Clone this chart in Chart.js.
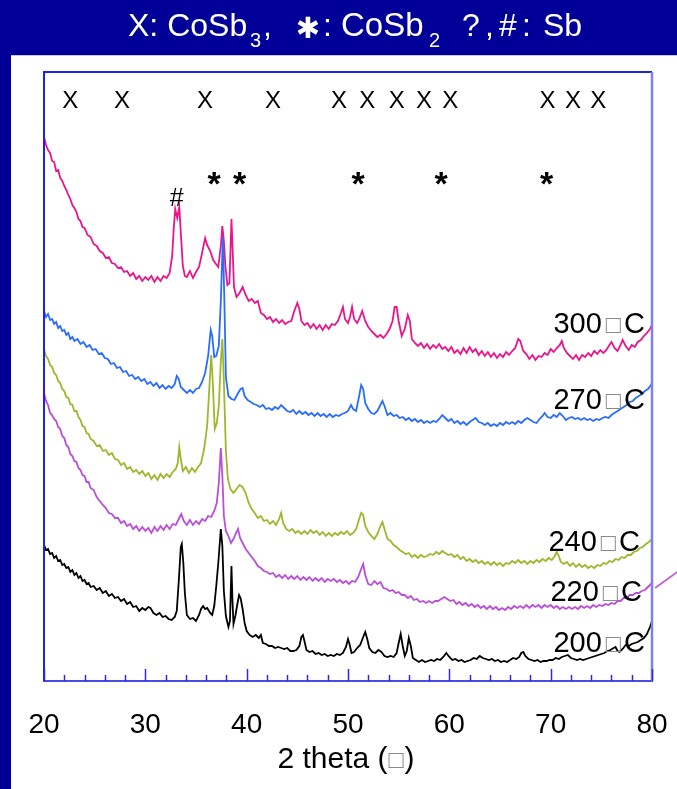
<!DOCTYPE html>
<html lang="en">
<head>
<meta charset="UTF-8">
<title>XRD CoSb</title>
<script src="https://cdn.jsdelivr.net/npm/chart.js@4"></script>
<style>
  html, body { margin: 0; padding: 0; background: #000099; }
  canvas { display: block; }
</style>
</head>
<body>
<canvas id="xrd" width="677" height="789"></canvas>
<script>
// [2theta, intensity] (intensity in arbitrary units, samples stacked)
const xrd300 = [
[20.0,544],[20.2,536],[20.4,531],[20.6,528],[20.8,520],[21.0,519],[21.2,510],[21.4,511],[21.6,503],[21.8,500],
[22.0,495],[22.2,491],[22.4,486],[22.6,482],[22.8,476],[23.0,473],[23.2,469],[23.4,462],[23.6,460],[23.8,454],
[24.0,453],[24.3,446],[24.6,444],[24.9,437],[25.2,435],[25.5,430],[25.8,428],[26.1,423],[26.4,424],[26.7,418],
[27.0,417],[27.3,413],[27.6,414],[27.9,409],[28.2,410],[28.5,405],[28.8,408],[29.1,402],[29.4,405],[29.7,400],
[30.0,404],[30.3,401],[30.6,405],[30.9,399],[31.2,404],[31.5,400],[31.8,405],[32.1,403],[32.4,408],[32.65,425],
[32.8,452],[32.95,472],[33.15,463],[33.35,474],[33.55,440],[33.7,415],[33.9,405],[34.1,404],[34.4,410],[34.7,403],
[35.0,409],[35.3,414],[35.6,428],[35.9,443],[36.1,436],[36.4,430],[36.7,421],[36.9,418],[37.2,414],[37.45,435],
[37.6,455],[37.75,440],[37.9,415],[38.1,396],[38.3,398],[38.5,462],[38.62,430],[38.75,394],[39.0,384],[39.3,388],
[39.6,394],[39.9,386],[40.2,380],[40.5,382],[40.8,378],[41.1,380],[41.4,368],[41.7,366],[42.0,362],[42.3,364],
[42.6,359],[42.9,362],[43.2,358],[43.5,361],[43.8,357],[44.1,359],[44.4,360],[44.7,370],[45.0,378],[45.2,372],
[45.4,360],[45.7,356],[46.0,358],[46.3,353],[46.6,357],[46.9,352],[47.2,356],[47.5,351],[47.8,356],[48.1,352],
[48.4,357],[48.7,356],[49.0,360],[49.3,368],[49.5,374],[49.7,362],[50.0,358],[50.2,364],[50.4,374],[50.6,362],
[50.9,358],[51.1,362],[51.4,370],[51.7,360],[52.0,354],[52.3,350],[52.6,347],[52.9,344],[53.2,346],[53.5,343],
[53.8,347],[54.1,352],[54.4,360],[54.6,374],[54.8,374],[55.0,360],[55.3,345],[55.6,352],[55.9,366],[56.1,360],
[56.3,342],[56.6,338],[56.9,335],[57.2,338],[57.5,333],[57.8,337],[58.1,332],[58.4,336],[58.7,333],[59.0,337],
[59.3,332],[59.6,334],[59.9,330],[60.2,334],[60.5,328],[60.8,331],[61.1,327],[61.4,333],[61.7,328],[62.0,334],
[62.3,329],[62.6,332],[62.9,326],[63.2,330],[63.5,325],[63.8,329],[64.1,324],[64.4,328],[64.7,323],[65.0,327],
[65.3,324],[65.6,329],[65.9,326],[66.2,330],[66.5,333],[66.8,342],[67.0,340],[67.3,330],[67.6,327],[67.9,322],
[68.2,326],[68.5,321],[68.8,325],[69.1,324],[69.4,328],[69.7,326],[70.0,332],[70.3,329],[70.6,333],[70.9,336],
[71.1,340],[71.3,333],[71.6,328],[71.9,325],[72.2,322],[72.5,326],[72.8,321],[73.1,326],[73.4,324],[73.7,328],
[74.0,325],[74.3,330],[74.6,327],[74.9,331],[75.2,328],[75.5,331],[75.8,336],[76.0,339],[76.3,333],[76.6,330],
[76.9,336],[77.1,341],[77.4,335],[77.7,331],[78.0,336],[78.3,334],[78.6,339],[78.9,341],[79.2,345],[79.5,348],
[79.8,352],[80.0,356]
];

const xrd270 = [
[20.0,370],[20.2,364],[20.4,367],[20.6,361],[20.8,362],[21.0,357],[21.2,359],[21.4,353],[21.6,355],[21.8,350],
[22.0,351],[22.2,346],[22.4,348],[22.6,342],[22.8,344],[23.0,340],[23.3,342],[23.6,337],[23.9,339],[24.2,334],
[24.5,336],[24.8,331],[25.1,332],[25.4,327],[25.7,328],[26.0,323],[26.3,322],[26.6,317],[26.9,318],[27.2,313],
[27.5,314],[27.8,309],[28.1,310],[28.4,305],[28.7,306],[29.0,302],[29.3,304],[29.6,300],[29.9,302],[30.2,297],
[30.5,299],[30.8,295],[31.1,298],[31.4,293],[31.7,296],[32.0,292],[32.3,295],[32.6,293],[32.9,297],[33.1,305],
[33.3,302],[33.5,294],[33.8,291],[34.1,288],[34.4,291],[34.7,288],[35.0,292],[35.3,293],[35.6,299],[35.9,308],
[36.2,325],[36.45,351],[36.6,345],[36.8,324],[37.0,325],[37.25,335],[37.45,380],[37.65,444],[37.8,380],[37.95,304],
[38.2,285],[38.5,282],[38.8,281],[39.1,287],[39.4,292],[39.6,293],[39.8,285],[40.1,281],[40.4,279],[40.7,277],
[41.0,276],[41.3,274],[41.6,276],[41.9,272],[42.2,273],[42.5,271],[42.8,274],[43.1,272],[43.4,276],[43.7,273],
[44.0,270],[44.3,269],[44.6,271],[44.9,267],[45.2,270],[45.5,267],[45.8,269],[46.1,266],[46.4,268],[46.7,265],
[47.0,268],[47.3,265],[47.6,267],[47.9,264],[48.2,267],[48.5,264],[48.8,266],[49.1,265],[49.4,267],[49.7,268],
[50.0,270],[50.3,276],[50.5,272],[50.8,270],[51.1,285],[51.3,296],[51.5,292],[51.7,278],[52.0,272],[52.3,268],
[52.6,267],[52.9,270],[53.2,276],[53.4,280],[53.6,275],[53.9,266],[54.2,268],[54.5,265],[54.8,266],[55.1,263],
[55.4,264],[55.7,261],[56.0,263],[56.3,260],[56.6,262],[56.9,259],[57.2,261],[57.5,258],[57.8,260],[58.1,258],
[58.4,260],[58.7,259],[59.0,262],[59.3,266],[59.6,263],[59.9,260],[60.2,262],[60.5,258],[60.8,260],[61.1,257],
[61.4,259],[61.7,256],[62.0,259],[62.3,261],[62.6,263],[62.9,259],[63.2,258],[63.5,256],[63.8,258],[64.1,255],
[64.4,257],[64.7,255],[65.0,258],[65.3,256],[65.6,259],[65.9,257],[66.2,259],[66.5,257],[66.8,260],[67.1,258],
[67.4,261],[67.7,263],[68.0,261],[68.3,259],[68.6,258],[68.9,262],[69.2,265],[69.4,268],[69.7,264],[70.0,263],
[70.3,266],[70.6,264],[70.9,268],[71.2,265],[71.5,261],[71.8,263],[72.1,264],[72.4,262],[72.7,263],[73.0,261],
[73.3,263],[73.6,261],[73.9,262],[74.2,260],[74.5,262],[74.8,261],[75.1,263],[75.4,264],[75.7,263],[76.0,266],
[76.3,268],[76.6,270],[76.9,272],[77.2,274],[77.5,276],[77.8,279],[78.1,280],[78.4,283],[78.7,285],[79.0,287],
[79.3,290],[79.6,292],[79.9,296],[80.0,298]
];

const xrd240 = [
[20.0,332],[20.2,325],[20.4,322],[20.6,316],[20.8,314],[21.0,308],[21.2,306],[21.4,300],[21.6,298],[21.8,292],
[22.0,290],[22.2,284],[22.4,283],[22.6,277],[22.8,276],[23.0,270],[23.2,270],[23.4,264],[23.6,261],[23.8,255],
[24.0,254],[24.2,248],[24.4,247],[24.6,242],[24.9,240],[25.2,235],[25.5,236],[25.8,230],[26.1,231],[26.4,226],
[26.7,228],[27.0,222],[27.3,221],[27.6,216],[27.9,218],[28.2,212],[28.5,214],[28.8,209],[29.1,211],[29.4,207],
[29.7,210],[30.0,205],[30.3,208],[30.6,202],[30.9,206],[31.2,201],[31.5,207],[31.8,203],[32.1,207],[32.4,204],
[32.7,209],[33.0,212],[33.2,218],[33.35,234],[33.5,222],[33.7,210],[34.0,214],[34.3,208],[34.6,213],[34.9,209],
[35.2,214],[35.5,218],[35.8,232],[36.1,255],[36.3,290],[36.5,326],[36.65,300],[36.85,252],[37.05,258],[37.25,275],
[37.45,320],[37.6,342],[37.75,300],[37.95,230],[38.15,202],[38.4,192],[38.7,188],[39.0,192],[39.3,196],[39.6,194],
[39.9,188],[40.2,178],[40.5,172],[40.8,168],[41.1,163],[41.4,165],[41.7,160],[42.0,161],[42.3,157],[42.6,160],
[42.9,156],[43.2,162],[43.4,168],[43.6,158],[43.9,152],[44.2,150],[44.5,152],[44.8,148],[45.1,150],[45.4,147],
[45.7,150],[46.0,147],[46.3,151],[46.6,148],[46.9,150],[47.2,146],[47.5,149],[47.8,145],[48.1,148],[48.4,145],
[48.7,148],[49.0,146],[49.3,149],[49.6,147],[49.9,150],[50.2,146],[50.5,148],[50.8,152],[51.1,162],[51.3,168],
[51.5,166],[51.7,155],[52.0,149],[52.3,145],[52.6,142],[52.9,147],[53.2,155],[53.4,159],[53.6,152],[53.9,142],
[54.2,140],[54.5,136],[54.8,134],[55.1,131],[55.4,129],[55.7,127],[56.0,128],[56.3,124],[56.6,126],[56.9,123],
[57.2,126],[57.5,124],[57.8,125],[58.1,127],[58.4,126],[58.7,129],[59.0,127],[59.3,130],[59.6,128],[59.9,126],
[60.2,127],[60.5,124],[60.8,126],[61.1,122],[61.4,124],[61.7,120],[62.0,122],[62.3,119],[62.6,121],[62.9,118],
[63.2,120],[63.5,117],[63.8,119],[64.1,116],[64.4,119],[64.7,116],[65.0,118],[65.3,115],[65.6,118],[65.9,117],
[66.2,120],[66.5,118],[66.8,121],[67.1,118],[67.4,120],[67.7,117],[68.0,120],[68.3,118],[68.6,121],[68.9,119],
[69.2,122],[69.5,120],[69.8,123],[70.1,121],[70.4,125],[70.6,129],[70.8,125],[71.0,119],[71.3,117],[71.6,119],
[71.9,115],[72.2,118],[72.5,114],[72.8,117],[73.1,114],[73.4,116],[73.7,113],[74.0,115],[74.3,113],[74.6,116],
[74.9,115],[75.2,118],[75.5,117],[75.8,120],[76.1,119],[76.4,122],[76.7,121],[77.0,124],[77.3,123],[77.6,126],
[77.9,126],[78.2,129],[78.5,130],[78.8,133],[79.1,134],[79.4,137],[79.7,139],[80.0,142]
];

const xrd220 = [
[20.0,288],[20.2,280],[20.4,276],[20.6,268],[20.8,266],[21.0,262],[21.2,260],[21.4,254],[21.6,252],[21.8,245],
[22.0,243],[22.2,236],[22.4,234],[22.6,227],[22.8,225],[23.0,220],[23.2,219],[23.4,213],[23.6,211],[23.8,206],
[24.0,205],[24.2,199],[24.4,199],[24.6,193],[24.9,191],[25.2,184],[25.5,180],[25.8,176],[26.1,173],[26.4,168],
[26.7,167],[27.0,163],[27.3,163],[27.6,158],[27.9,160],[28.2,155],[28.5,157],[28.8,152],[29.1,155],[29.4,150],
[29.7,154],[30.0,150],[30.3,153],[30.6,148],[30.9,154],[31.2,150],[31.5,155],[31.8,151],[32.1,156],[32.4,152],
[32.7,157],[33.0,156],[33.3,162],[33.55,167],[33.8,160],[34.1,156],[34.4,161],[34.7,156],[35.0,160],[35.3,157],
[35.6,162],[35.9,160],[36.2,165],[36.5,164],[36.8,170],[37.05,178],[37.25,198],[37.45,233],[37.6,205],[37.75,165],
[37.95,150],[38.2,145],[38.45,138],[38.7,142],[38.95,148],[39.15,152],[39.35,143],[39.6,138],[39.9,132],[40.2,128],
[40.5,124],[40.8,120],[41.1,115],[41.4,113],[41.7,110],[42.0,109],[42.3,107],[42.6,108],[42.9,104],[43.2,106],
[43.5,103],[43.8,106],[44.1,102],[44.4,105],[44.7,102],[45.0,105],[45.3,101],[45.6,104],[45.9,101],[46.2,104],
[46.5,100],[46.8,103],[47.1,100],[47.4,103],[47.7,99],[48.0,102],[48.3,100],[48.6,102],[48.9,99],[49.2,101],
[49.5,98],[49.8,100],[50.1,97],[50.4,100],[50.7,99],[51.0,104],[51.3,112],[51.5,117],[51.7,106],[52.0,97],
[52.3,96],[52.6,100],[52.9,97],[53.2,99],[53.5,93],[53.8,92],[54.1,90],[54.4,91],[54.7,88],[55.0,89],
[55.3,86],[55.6,86],[55.9,83],[56.2,85],[56.5,81],[56.8,82],[57.1,79],[57.4,80],[57.7,78],[58.0,80],
[58.3,78],[58.6,80],[58.9,80],[59.2,82],[59.5,84],[59.8,82],[60.1,80],[60.4,81],[60.7,77],[61.0,79],
[61.3,76],[61.6,78],[61.9,75],[62.2,77],[62.5,74],[62.8,76],[63.1,73],[63.4,75],[63.7,72],[64.0,75],
[64.3,72],[64.6,74],[64.9,71],[65.2,73],[65.5,71],[65.8,74],[66.1,72],[66.4,75],[66.7,73],[67.0,75],
[67.3,73],[67.6,76],[67.9,73],[68.2,76],[68.5,74],[68.8,76],[69.1,73],[69.4,76],[69.7,74],[70.0,76],
[70.3,73],[70.6,75],[70.9,72],[71.2,74],[71.5,72],[71.8,74],[72.1,72],[72.4,74],[72.7,72],[73.0,75],
[73.3,73],[73.6,75],[73.9,73],[74.2,76],[74.5,74],[74.8,76],[75.1,75],[75.4,77],[75.7,76],[76.0,78],
[76.3,77],[76.6,80],[76.9,80],[77.2,83],[77.5,83],[77.8,86],[78.1,86],[78.4,88],[78.7,88],[79.0,90],
[79.3,91],[79.6,94],[79.9,97],[80.0,98]
];
// short stray stroke of the 220 trace right of the frame
const xrd220tail = [[80.3,93],[82.5,109]];

const xrd200 = [
[20.0,136],[20.2,131],[20.4,132],[20.6,127],[20.8,128],[21.0,123],[21.2,125],[21.4,120],[21.6,121],[21.8,116],
[22.0,117],[22.2,113],[22.4,114],[22.6,109],[22.8,111],[23.0,106],[23.2,108],[23.4,103],[23.6,105],[23.8,100],
[24.0,101],[24.2,97],[24.4,98],[24.6,94],[24.9,95],[25.2,91],[25.5,93],[25.8,88],[26.1,90],[26.4,85],
[26.7,87],[27.0,83],[27.3,84],[27.6,80],[27.9,82],[28.2,77],[28.5,79],[28.8,74],[29.1,75],[29.4,70],
[29.7,73],[30.0,71],[30.3,74],[30.5,73],[30.8,68],[31.1,66],[31.4,68],[31.7,64],[32.0,65],[32.3,62],
[32.6,61],[32.9,64],[33.1,70],[33.3,100],[33.5,134],[33.6,137],[33.75,118],[33.9,88],[34.1,66],[34.4,62],
[34.7,63],[35.0,60],[35.3,66],[35.5,72],[35.7,75],[35.9,72],[36.1,73],[36.4,68],[36.6,66],[36.8,75],
[37.0,95],[37.2,118],[37.45,152],[37.6,135],[37.75,90],[37.95,65],[38.2,54],[38.35,60],[38.5,115],[38.6,80],
[38.7,57],[38.9,66],[39.1,78],[39.25,86],[39.4,83],[39.6,72],[39.8,58],[40.0,50],[40.3,46],[40.6,44],
[40.9,46],[41.2,43],[41.4,46],[41.6,38],[41.9,37],[42.2,35],[42.5,35],[42.8,33],[43.1,34],[43.4,33],
[43.7,32],[44.0,33],[44.3,30],[44.6,30],[44.9,31],[45.2,35],[45.4,44],[45.55,46],[45.7,40],[45.9,31],
[46.2,29],[46.5,30],[46.8,27],[47.1,28],[47.4,26],[47.7,27],[48.0,25],[48.3,26],[48.6,25],[48.9,27],
[49.2,26],[49.5,28],[49.8,34],[50.0,42],[50.15,37],[50.35,28],[50.6,29],[50.9,33],[51.2,36],[51.5,44],
[51.7,49],[51.9,42],[52.1,33],[52.4,29],[52.7,28],[53.0,31],[53.3,29],[53.6,25],[53.9,24],[54.2,25],
[54.5,24],[54.8,28],[55.0,38],[55.2,47],[55.4,35],[55.6,25],[55.8,30],[56.0,43],[56.2,35],[56.4,23],
[56.7,21],[57.0,19],[57.3,21],[57.6,19],[57.9,20],[58.2,21],[58.5,20],[58.8,22],[59.1,21],[59.4,24],
[59.7,28],[60.0,24],[60.3,21],[60.6,22],[60.9,20],[61.2,21],[61.5,19],[61.8,20],[62.1,21],[62.4,23],
[62.7,22],[63.0,25],[63.3,23],[63.6,22],[63.9,21],[64.2,22],[64.5,20],[64.8,21],[65.1,19],[65.4,20],
[65.7,19],[66.0,21],[66.3,23],[66.6,22],[66.9,24],[67.1,28],[67.3,29],[67.5,25],[67.8,22],[68.1,21],
[68.4,20],[68.7,21],[69.0,19],[69.3,20],[69.6,20],[69.9,21],[70.2,21],[70.5,23],[70.8,22],[71.1,24],
[71.4,25],[71.7,26],[72.0,23],[72.3,22],[72.6,21],[72.9,22],[73.2,21],[73.5,22],[73.8,23],[74.1,24],
[74.4,25],[74.7,26],[75.0,27],[75.3,28],[75.6,30],[75.9,31],[76.2,33],[76.4,34],[76.6,30],[76.8,29],
[77.1,32],[77.4,36],[77.7,35],[78.0,37],[78.3,38],[78.6,39],[78.9,41],[79.2,43],[79.5,47],[79.8,54],
[80.0,60]
];

// phase markers (2theta positions) and the height of each marker row
const cosb3Peaks = [22.6, 27.7, 35.9, 42.6, 49.1, 51.9, 54.8, 57.5, 60.1, 69.7, 72.2, 74.7];
const cosb2Peaks = [36.8, 39.3, 51.0, 59.2, 69.6];
const sbPeaks = [33.1];
const markerRows = { cosb3: 582, cosb2: 503, sb: 484 };

// curve labels: temperature, right end (2theta), height
const tempLabels = ['300', '270', '240', '220', '200'];
const tempLabelX = [79.3, 79.3, 78.8, 79.0, 79.3];
const tempLabelY = [358, 282, 140, 90, 39];

const FONT = '"Liberation Sans", Arial, Helvetica, sans-serif';
const BOX = '\u25A1';

function toXY(arr) {
  return arr.map(p => ({ x: p[0], y: p[1] }));
}

function font(size, bold) {
  return (bold ? 'bold ' : '') + size + 'px ' + FONT;
}

// draw a run of text pieces [text, size, color, gapBefore] on one baseline
function drawRun(ctx, x, y, parts, align) {
  let w = 0;
  parts.forEach(p => { ctx.font = font(p[1]); w += ctx.measureText(p[0]).width + (p[3] || 0); });
  let cx = align === 'right' ? x - w : (align === 'center' ? x - w / 2 : x);
  ctx.textAlign = 'left';
  ctx.textBaseline = 'alphabetic';
  parts.forEach(p => {
    ctx.font = font(p[1]);
    ctx.fillStyle = p[2];
    cx += p[3] || 0;
    ctx.fillText(p[0], cx, y);
    cx += ctx.measureText(p[0]).width;
  });
}

// text centred on (x, y) using the glyph's ink box
function drawCentered(ctx, text, x, y, fontStr, color) {
  ctx.font = fontStr;
  const m = ctx.measureText(text);
  ctx.textAlign = 'center';
  ctx.textBaseline = 'alphabetic';
  ctx.fillStyle = color || '#000';
  ctx.fillText(text, x, y + (m.actualBoundingBoxAscent - m.actualBoundingBoxDescent) / 2);
}

const frame = {
  id: 'frame',
  beforeDraw(chart) {
    const ctx = chart.ctx;
    ctx.save();
    ctx.fillStyle = '#000099';
    ctx.fillRect(0, 0, chart.width, chart.height);
    ctx.fillStyle = '#ffffff';
    ctx.fillRect(11, 55, chart.width - 11, chart.height - 55);
    ctx.fillStyle = '#c8c8ee';
    ctx.fillRect(11, 55, chart.width - 11, 1);

    // title with subscripts
    ctx.fillStyle = '#fff';
    ctx.textAlign = 'left';
    ctx.textBaseline = 'alphabetic';
    const title = [
      ['X: CoSb', 128, 36, 32], ['3', 250, 47, 20], [',', 263, 36, 32],
      [':', 323, 36, 32], ['CoSb', 341, 36, 33],
      ['2', 429, 47, 20], ['?', 462, 36, 32], [',', 485, 36, 32],
      ['#', 499, 36, 32], [':', 522, 36, 32], ['Sb', 543, 36, 32]
    ];
    title.forEach(t => { ctx.font = font(t[3]); ctx.fillText(t[0], t[1], t[2]); });
    drawCentered(ctx, '\u2731', 308, 27, '29px "DejaVu Sans", sans-serif', '#fff');
    ctx.restore();
  },
  afterDatasetsDraw(chart) {
    const ctx = chart.ctx;
    const xs = chart.scales.x, ys = chart.scales.y;
    const a = chart.chartArea;
    ctx.save();

    // frame lines
    ctx.lineWidth = 2;
    ctx.strokeStyle = '#2222dd';
    ctx.beginPath();
    ctx.moveTo(a.left, a.bottom); ctx.lineTo(a.left, a.top); ctx.lineTo(a.right, a.top);
    ctx.stroke();
    ctx.strokeStyle = '#7f7fee';
    ctx.lineWidth = 2.5;
    ctx.beginPath();
    ctx.moveTo(a.right, a.top); ctx.lineTo(a.right, a.bottom);
    ctx.stroke();

    // inward tick marks, major every 10, minor every 2
    ctx.strokeStyle = '#2a2ae0';
    ctx.lineWidth = 1.5;
    for (let v = xs.min; v <= xs.max; v += 2) {
      const px = Math.round(xs.getPixelForValue(v)) + 0.5;
      const len = v % 10 === 0 ? 12 : 6;
      ctx.beginPath();
      ctx.moveTo(px, a.bottom);
      ctx.lineTo(px, a.bottom - len);
      ctx.stroke();
    }

    // phase markers
    cosb3Peaks.forEach(t => drawCentered(ctx, 'X', xs.getPixelForValue(t), ys.getPixelForValue(markerRows.cosb3), font(24)));
    cosb2Peaks.forEach(t => drawCentered(ctx, '*', xs.getPixelForValue(t), ys.getPixelForValue(markerRows.cosb2), font(34, true)));
    sbPeaks.forEach(t => drawCentered(ctx, '#', xs.getPixelForValue(t), ys.getPixelForValue(markerRows.sb), font(25)));

    // temperature labels
    ctx.font = font(29);
    const digits = ctx.measureText('0');
    const half = (digits.actualBoundingBoxAscent - digits.actualBoundingBoxDescent) / 2;
    tempLabels.forEach((t, i) => {
      drawRun(ctx, xs.getPixelForValue(tempLabelX[i]), ys.getPixelForValue(tempLabelY[i]) + half,
        [[t, 29, '#000'], [BOX, 25, '#8a8a8a', 4], ['C', 29, '#000', 3]], 'right');
    });

    // axis title
    drawRun(ctx, 346, 768,
      [['2 theta (', 30, '#000'], [BOX, 25, '#8a8a8a', 1], [')', 30, '#000', 1]], 'center');
    ctx.restore();
  }
};

const lineStyle = { borderWidth: 1.8, pointRadius: 0, tension: 0, fill: false };

new Chart(document.getElementById('xrd'), {
  type: 'line',
  data: {
    datasets: [
      Object.assign({ label: '270', data: toXY(xrd270), borderColor: '#2a6cff' }, lineStyle),
      Object.assign({ label: '300', data: toXY(xrd300), borderColor: '#e8168a' }, lineStyle),
      Object.assign({ label: '240', data: toXY(xrd240), borderColor: '#9cb82c' }, lineStyle),
      Object.assign({ label: '220', data: toXY(xrd220), borderColor: '#b94fd8' }, lineStyle),
      Object.assign({ label: '220 tail', data: toXY(xrd220tail), borderColor: '#c060e0', clip: false }, lineStyle),
      Object.assign({ label: '200', data: toXY(xrd200), borderColor: '#000000' }, lineStyle)
    ]
  },
  options: {
    responsive: false,
    animation: false,
    devicePixelRatio: 1,
    layout: { padding: { left: 44, right: 25, top: 72, bottom: 48 } },
    plugins: { legend: { display: false }, tooltip: { enabled: false } },
    scales: {
      x: {
        type: 'linear', min: 20, max: 80,
        // fixed axis band; the end labels may overhang into the side padding
        afterFit: s => { s.height = 60; s.paddingLeft = 0; s.paddingRight = 0; },
        grid: { display: false, drawTicks: false },
        border: { display: true, color: '#4a4ae8', width: 2 },
        ticks: { stepSize: 10, padding: 27, color: '#000', font: { family: FONT, size: 28 } }
      },
      y: { display: false, min: 0, max: 609 }
    }
  },
  plugins: [frame]
});
</script>
</body>
</html>
